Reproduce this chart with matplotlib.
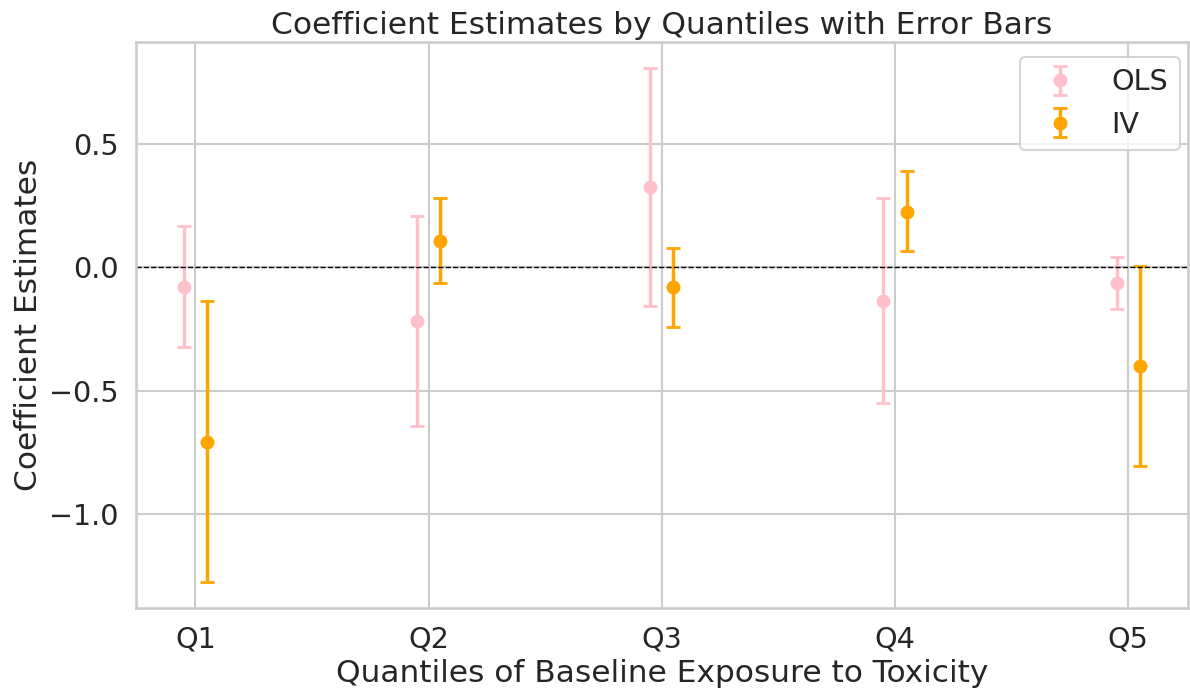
import matplotlib
matplotlib.use("Agg")
import matplotlib.pyplot as plt
import numpy as np
import seaborn as sns

# values
quantiles = ["Q1", "Q2", "Q3", "Q4", "Q5"]
ols_coef = [-0.080, -0.218, 0.327, -0.137, -0.062]
ols_low = [-0.323, -0.644, -0.155, -0.551, -0.167]
ols_high = [0.168, 0.209, 0.811, 0.282, 0.041]
iv_coef = [-0.709, 0.108, -0.080, 0.227, -0.401]
iv_low = [-1.278, -0.065, -0.242, 0.068, -0.808]
iv_high = [-0.137, 0.281, 0.081, 0.390, 0.006]

sns.set_theme(style="whitegrid", context="talk", font_scale=1.25)

fig, ax = plt.subplots(figsize=(11.9, 6.93), dpi=100)
fig.subplots_adjust(left=0.1143, right=0.998, top=0.9394, bottom=0.1227)
x = np.arange(len(quantiles))
offset = 0.05

ols_err = [np.subtract(ols_coef, ols_low), np.subtract(ols_high, ols_coef)]
iv_err = [np.subtract(iv_coef, iv_low), np.subtract(iv_high, iv_coef)]

ax.errorbar(x - offset, ols_coef, yerr=ols_err, fmt='o', color='pink',
            capsize=5, elinewidth=2.5, capthick=2, label='OLS')
ax.errorbar(x + offset, iv_coef, yerr=iv_err, fmt='o', color='orange',
            capsize=5, elinewidth=2.5, capthick=2, label='IV')
ax.axhline(0, color='black', linestyle='--', linewidth=1)

ax.set_xticks(x)
ax.set_xticklabels(quantiles)
ax.set_xlabel('Quantiles of Baseline Exposure to Toxicity')
ax.set_ylabel('Coefficient Estimates')
ax.set_title('Coefficient Estimates by Quantiles with Error Bars')
ax.legend(loc='upper right', bbox_to_anchor=(0.9924, 0.9735), borderaxespad=0)

fig.savefig('out.png', dpi=100)
